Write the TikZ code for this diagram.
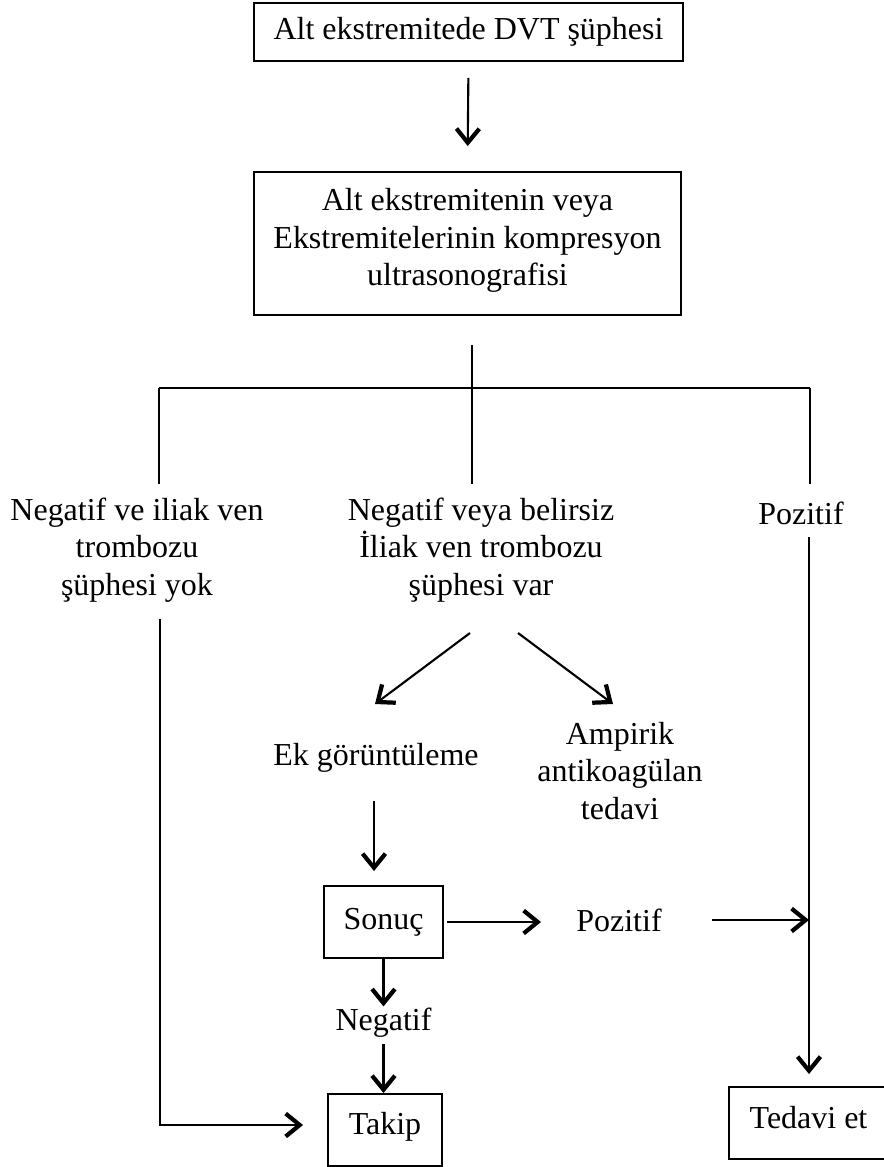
\documentclass[tikz,border=0pt]{standalone}
\usepackage{fontspec}
\setmainfont{Liberation Serif}
\usetikzlibrary{arrows.meta,positioning,calc}

\begin{document}
\begin{tikzpicture}[x=0.02cm, y=-0.02cm, font=\fontsize{18.2}{21.4}\selectfont,
    box_style/.style={rectangle, draw=black, line width=1.1pt, inner sep=0pt, align=center},
    text_style/.style={inner sep=0pt, align=center},
    line_style/.style={draw=black, line width=1.2pt},
    arrow_style/.style={draw=black, line width=1.2pt, -{Straight Barb[length=8pt, width=13pt, line width=2.4pt]}}]

	\useasboundingbox (0,0) rectangle (884,1167);

	% boxes
	\node[box_style, minimum width=8.58cm, minimum height=1.16cm] (suspect) at (468.5, 32) {Alt ekstremitede DVT şüphesi};
	\node[box_style, minimum width=8.54cm, minimum height=2.86cm, text depth=0.25cm] (cus) at (467.5, 243.5) {Alt ekstremitenin veya\\Ekstremitelerinin kompresyon\\ultrasonografisi};
	\node[box_style, minimum width=2.38cm, minimum height=1.44cm] (sonuc) at (383.5, 922) {Sonuç};
	\node[box_style, minimum width=2.28cm, minimum height=1.44cm, text depth=0.28cm] (takip) at (385, 1130) {Takip};
	\node[box_style, minimum width=3.18cm, minimum height=1.44cm, text depth=0.24cm] (tedavi) at (808.5, 1123) {Tedavi et};

	% labels
	\node[text_style] (neg_left) at (137, 550) {Negatif ve iliak ven\\trombozu\\şüphesi yok};
	\node[text_style] (neg_mid) at (481, 550) {Negatif veya belirsiz\\İliak ven trombozu\\şüphesi var};
	\node[text_style] (poz_right) at (801, 513) {Pozitif};
	\node[text_style] (ek) at (376, 758) {Ek görüntüleme};
	\node[text_style] (ampirik) at (620, 771) {Ampirik\\antikoagülan\\tedavi};
	\node[text_style] (poz_mid) at (619, 920) {Pozitif};
	\node[text_style] (negatif) at (383.5, 1023) {Negatif};

	% free ends
	\coordinate (tree_top) at (472, 345);
	\coordinate (tree_left) at (159, 388);
	\coordinate (tree_right) at (810, 388);
	\coordinate (left_end) at (159, 484);
	\coordinate (mid_end) at (472, 484);
	\coordinate (right_end) at (810, 484);
	\coordinate (left_start) at (160, 619);
	\coordinate (right_start) at (809, 537);
	\coordinate (fork_left) at (470, 633);
	\coordinate (fork_right) at (518, 633);
	\coordinate (ek_top) at (375, 704);
	\coordinate (ampirik_top) at (613, 704);
	\coordinate (ek_down) at (374, 801);

	\draw[arrow_style, shorten <=0.32cm, shorten >=0.5cm] (suspect.south) -- (cus.north);

	\draw[line_style] (tree_left) -- (tree_right);
	\draw[line_style] (tree_top) -- (mid_end);
	\draw[line_style] (tree_left) -- (left_end);
	\draw[line_style] (tree_right) -- (right_end);

	\draw[arrow_style] (fork_left) -- (ek_top);
	\draw[arrow_style] (fork_right) -- (ampirik_top);
	\draw[arrow_style, shorten >=0.28cm] (ek_down) -- (ek_down |- sonuc.north);

	\draw[arrow_style, shorten <=2pt, shorten >=0.7cm] (sonuc.east) -- (sonuc.east -| poz_mid.west);
	\draw[arrow_style, shorten <=1cm] (poz_mid.east) -- (poz_mid.east -| right_start);
	\draw[arrow_style, shorten >=0.03cm] (sonuc.south) -- (negatif.north);
	\draw[arrow_style, shorten <=0.12cm] (negatif.south) -- (negatif.south |- takip.north);

	\draw[arrow_style, shorten >=0.24cm] (right_start) -- (right_start |- tedavi.north);
	\draw[arrow_style, shorten >=0.48cm] (left_start) |- ([yshift=0.1cm]takip.west);
\end{tikzpicture}
\end{document}
